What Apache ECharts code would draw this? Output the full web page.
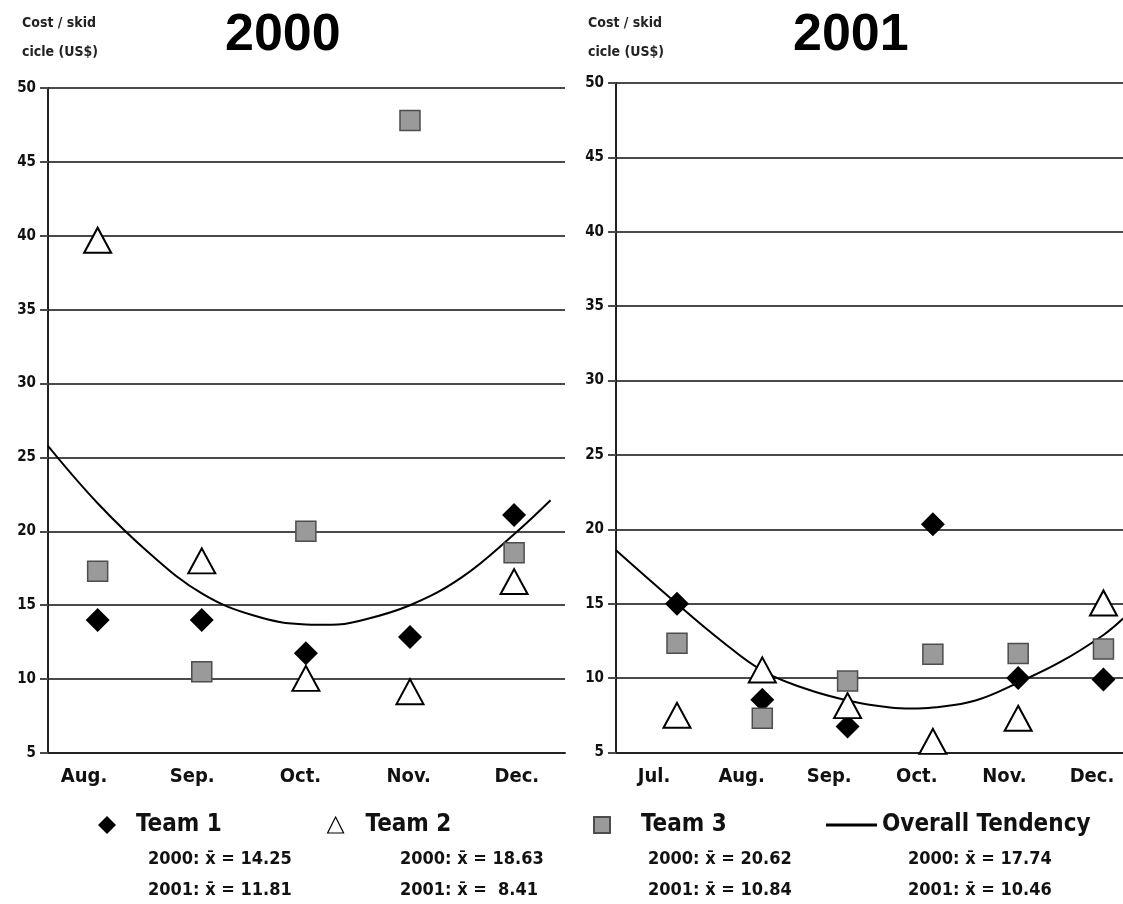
<!DOCTYPE html>
<html>
<head>
<meta charset="utf-8">
<script src="https://cdn.jsdelivr.net/npm/echarts@6/dist/echarts.min.js"></script>
<style>
  html, body { margin: 0; padding: 0; background: #fff; }
  #chart { width: 1123px; height: 904px; }
</style>
</head>
<body>
<div id="chart"></div>
<script>
// Month labels for each season
const months2000 = ['Aug.', 'Sep.', 'Oct.', 'Nov.', 'Dec.'];
const months2001 = ['Jul.', 'Aug.', 'Sep.', 'Oct.', 'Nov.', 'Dec.'];

// Cost per skid cycle (US$) by team, one value per month
const team1_2000 = [14.0, 14.0, 11.75, 12.85, 21.1];
const team2_2000 = [39.7, 18.0, 10.05, 9.15, 16.6];
const team3_2000 = [17.3, 10.5, 20.0, 47.8, 18.55];

const team1_2001 = [15.0, 8.55, 6.75, 20.35, 10.0, 9.9];
const team2_2001 = [7.5, 10.55, 8.15, 5.75, 7.3, 15.05];
const team3_2001 = [12.35, 7.3, 9.8, 11.6, 11.65, 11.95];

// Overall tendency curves, [month position, cost]
const trend2000 = [[-0.48, 25.8], [0, 21.9], [0.5, 18.5], [1, 15.8], [1.5, 14.3], [2, 13.7],
                   [2.25, 13.68], [2.5, 13.92], [3, 15.0], [3.5, 16.9], [4, 19.8], [4.35, 22.1]];
const trend2001 = [[-0.715, 18.6], [0, 15.0], [0.5, 12.6], [1, 10.5], [1.5, 9.3], [2, 8.5],
                   [2.5, 8.02], [2.75, 7.95], [3, 8.02], [3.5, 8.5], [4, 9.7], [4.5, 11.1], [5, 12.9], [5.23, 14.0]];

// Y axis range and step
const yMin = 5, yMax = 50, yStep = 5;

// Legend entries and their yearly means
const seriesNames = ['Team 1', 'Team 2', 'Team 3', 'Overall Tendency'];
const means2000 = ['14.25', '18.63', '20.62', '17.74'];
const means2001 = ['11.81', ' 8.41', '10.84', '10.46'];

const NARROW = "'Liberation Sans Narrow', 'Arial Narrow', 'DejaVu Sans Condensed', sans-serif";
const WIDE = "'Liberation Sans', Arial, sans-serif";
const INK = '#111';
const GRID_COLOR = '#4a4a4a';

const pairs = arr => arr.map((v, i) => [i, v]);
const idx = n => Array.from({ length: n }, (_, i) => i);

const styles = {
  t1: { symbol: 'diamond', symbolSize: 24, itemStyle: { color: '#000', opacity: 1 } },
  t2: { symbol: 'triangle', symbolSize: [27, 25], itemStyle: { color: '#fff', borderColor: '#000', borderWidth: 2, opacity: 1 } },
  t3: { symbol: 'rect', symbolSize: 20, itemStyle: { color: '#9a9a9a', borderColor: '#4d4d4d', borderWidth: 1.5, opacity: 1 } }
};

function yAxisFor(gridIndex) {
  return {
    type: 'value', gridIndex, min: yMin, max: yMax, interval: yStep,
    axisLine: { show: true, onZero: false, lineStyle: { color: '#222', width: 2 } },
    axisTick: { show: true, length: 8, lineStyle: { color: GRID_COLOR, width: 2 } },
    axisLabel: { margin: 12, color: INK, fontFamily: NARROW, fontWeight: 'bold', fontSize: 15 },
    splitLine: { show: true, lineStyle: { color: GRID_COLOR, width: 2 } }
  };
}

function markAxis(gridIndex, min, max) {
  return {
    type: 'value', gridIndex, min, max, position: 'bottom',
    axisLine: { show: true, onZero: false, lineStyle: { color: '#222', width: 2 } },
    axisTick: { show: false }, axisLabel: { show: false }, splitLine: { show: false }
  };
}

function labelAxis(gridIndex, min, max, names) {
  return {
    type: 'value', gridIndex, min, max, position: 'bottom',
    axisLine: { show: false, onZero: false }, axisTick: { show: false }, splitLine: { show: false },
    axisLabel: {
      customValues: idx(names.length), margin: 14,
      formatter: v => names[Math.round(v)],
      color: INK, fontFamily: NARROW, fontWeight: 'bold', fontSize: 20
    }
  };
}

function scatter(name, data, xi, yi, st) {
  return Object.assign({ name, type: 'scatter', xAxisIndex: xi, yAxisIndex: yi, data: pairs(data), z: 3 }, st);
}

function trend(data, xi, yi) {
  return {
    name: 'Overall Tendency', type: 'line', xAxisIndex: xi, yAxisIndex: yi, data,
    smooth: 0.4, symbol: 'none', z: 2,
    lineStyle: { color: '#000', width: 2 }, itemStyle: { color: '#000' }
  };
}

const legendText = { color: INK, fontFamily: NARROW, fontWeight: 'bold', fontSize: 24 };

const statTexts = [];
const statX = [148, 400, 648, 908];
statX.forEach((x, i) => {
  statTexts.push({ type: 'text', left: x, top: 850, style: { text: '2000: x\u0304 = ' + means2000[i], fill: INK, font: 'bold 18px ' + NARROW } });
  statTexts.push({ type: 'text', left: x, top: 881, style: { text: '2001: x\u0304 = ' + means2001[i], fill: INK, font: 'bold 18px ' + NARROW } });
});

const yName = { fontFamily: NARROW, fontWeight: 'bold', fontSize: 14, lineHeight: 29, color: '#222' };

const chart = echarts.init(document.getElementById('chart'), null, { renderer: 'canvas' });
chart.setOption({
  backgroundColor: '#fff',
  animation: false,
  title: [
    { text: '2000', left: 225, top: 10, padding: 0, textStyle: { fontFamily: WIDE, fontWeight: 'bold', fontSize: 52, color: '#000' } },
    { text: '2001', left: 793, top: 10, padding: 0, textStyle: { fontFamily: WIDE, fontWeight: 'bold', fontSize: 52, color: '#000' } },
    { text: 'Cost / skid\ncicle (US$)', left: 22, top: 9, padding: 0, textStyle: yName },
    { text: 'Cost / skid\ncicle (US$)', left: 588, top: 9, padding: 0, textStyle: yName }
  ],
  grid: [
    { left: 48, top: 88, width: 517, height: 665 },
    { left: 616, top: 83, width: 507, height: 669.5 }
  ],
  xAxis: [
    markAxis(0, -0.477, 4.489),
    labelAxis(0, -0.333, 4.445, months2000),
    markAxis(1, -0.715, 5.229),
    labelAxis(1, -0.434, 5.354, months2001)
  ],
  yAxis: [yAxisFor(0), yAxisFor(1)],
  legend: [
    { data: [seriesNames[0]], left: 98, top: 813, padding: 0, itemWidth: 18, itemHeight: 18, textStyle: Object.assign({ padding: [0, 0, 0, 15] }, legendText) },
    { data: [seriesNames[1]], left: 327, top: 813, padding: 0, itemWidth: 16, itemHeight: 16, textStyle: Object.assign({ padding: [0, 0, 0, 17] }, legendText),
      itemStyle: { borderWidth: 1.2 } },
    { data: [seriesNames[2]], left: 593, top: 813, padding: 0, itemWidth: 16, itemHeight: 16, textStyle: Object.assign({ padding: [0, 0, 0, 26] }, legendText) },
    { data: [{ name: seriesNames[3], icon: 'rect' }], left: 826, top: 813, padding: 0, itemWidth: 51, itemHeight: 3,
      itemStyle: { color: '#000' }, textStyle: Object.assign({ padding: [0, 0, 0, 0] }, legendText) }
  ],
  graphic: statTexts,
  series: [
    trend(trend2000, 0, 0),
    scatter('Team 1', team1_2000, 0, 0, styles.t1),
    scatter('Team 2', team2_2000, 0, 0, styles.t2),
    scatter('Team 3', team3_2000, 0, 0, styles.t3),
    trend(trend2001, 2, 1),
    scatter('Team 1', team1_2001, 2, 1, styles.t1),
    scatter('Team 2', team2_2001, 2, 1, styles.t2),
    scatter('Team 3', team3_2001, 2, 1, styles.t3)
  ]
});
</script>
</body>
</html>
